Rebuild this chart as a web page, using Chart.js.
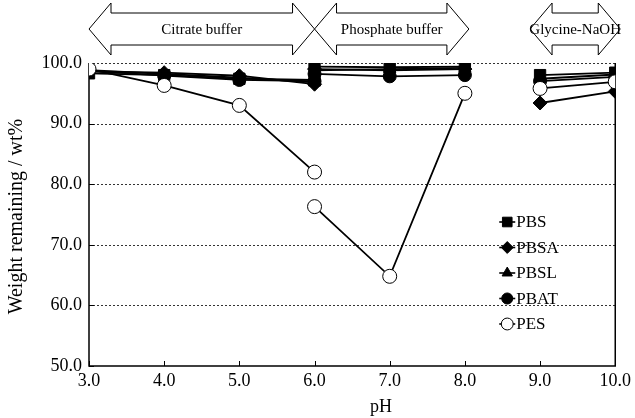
<!DOCTYPE html>
<html>
<head>
<meta charset="utf-8">
<script src="https://cdn.jsdelivr.net/npm/chart.js@4/dist/chart.umd.min.js"></script>
<style>
  html, body { margin: 0; padding: 0; background: #fff; }
  #wrap { width: 635px; height: 418px; position: relative; }
</style>
</head>
<body>
<div id="wrap"><canvas id="c"></canvas></div>
<script>
// pH points: 6.0 appears twice (citrate and phosphate buffer)
const pH      = [3, 4, 5, 6, 6, 7, 8, 9, 10];
const buffers = ['citrate', 'citrate', 'citrate', 'citrate', 'phosphate', 'phosphate', 'phosphate', 'glycine', 'glycine'];

const PBS  = [98.3, 98.0, 97.4, 97.2, 99.4, 99.3, 99.4, 98.0, 98.4];
const PBSA = [98.6, 98.4, 97.9, 96.5, 99.0, 98.8, 99.0, 93.4, 95.3];
const PBSL = [98.8, 98.2, 97.6, 96.8, 98.8, 99.0, 99.2, 97.4, 98.1];
const PBAT = [98.7, 97.9, 97.2, 97.0, 98.2, 97.8, 98.0, 97.0, 97.7];
const PES  = [99.0, 96.3, 93.0, 82.0, 76.3, 64.8, 95.0, 95.8, 96.9];

const xTicks = [3, 4, 5, 6, 7, 8, 9, 10];
const yTicks = [50, 60, 70, 80, 90, 100];

const bufferBands = [
  { label: 'Citrate buffer',   from: 3, to: 6 },
  { label: 'Phosphate buffer', from: 6, to: 8 },
  { label: 'Glycine-NaOH',     from: 9, to: 10 }
];

const FONT = "'Liberation Serif', 'Times New Roman', serif";

// points with a null between buffer changes so the line breaks
function toPoints(values) {
  const pts = [];
  values.forEach((v, i) => {
    if (i > 0 && buffers[i] !== buffers[i - 1]) pts.push({ x: pH[i], y: null });
    pts.push({ x: pH[i], y: v });
  });
  return pts;
}

function series(label, values, style, radius, fill, order) {
  return {
    label,
    data: toPoints(values),
    borderColor: '#000',
    borderWidth: 1.8,
    pointStyle: style,
    pointRadius: radius,
    pointHoverRadius: radius,
    pointBackgroundColor: fill,
    pointBorderColor: '#000',
    pointBorderWidth: 1,
    spanGaps: false,
    tension: 0,
    order
  };
}

// marker for the in-plot legend
function drawMarker(ctx, style, x, y, r, fill) {
  ctx.save();
  ctx.fillStyle = fill;
  ctx.strokeStyle = '#000';
  ctx.lineWidth = 1;
  ctx.beginPath();
  if (style === 'rect') {
    const s = r * Math.SQRT1_2;
    ctx.rect(x - s, y - s, 2 * s, 2 * s);
  } else if (style === 'rectRot') {
    ctx.moveTo(x, y - r); ctx.lineTo(x + r, y); ctx.lineTo(x, y + r); ctx.lineTo(x - r, y);
    ctx.closePath();
  } else if (style === 'triangle') {
    const w = r * Math.sqrt(3);
    ctx.moveTo(x, y - r); ctx.lineTo(x + w / 2, y + r / 2); ctx.lineTo(x - w / 2, y + r / 2);
    ctx.closePath();
  } else {
    ctx.arc(x, y, r, 0, Math.PI * 2);
  }
  ctx.fill();
  ctx.stroke();
  ctx.restore();
}

const decorPlugin = {
  id: 'decor',
  beforeDatasetsDraw(chart) {
    const { ctx, chartArea: a, scales: { x, y } } = chart;
    ctx.save();
    // dotted grid lines
    ctx.strokeStyle = '#333';
    ctx.lineWidth = 1;
    ctx.setLineDash([2, 2]);
    yTicks.slice(1).forEach(v => {
      const py = Math.round(y.getPixelForValue(v)) + 0.5;
      ctx.beginPath(); ctx.moveTo(a.left, py); ctx.lineTo(a.right, py); ctx.stroke();
    });
    ctx.setLineDash([]);
    // solid axes + right border
    ctx.strokeStyle = '#000';
    ctx.lineWidth = 1.5;
    ctx.beginPath();
    ctx.moveTo(a.left, a.top); ctx.lineTo(a.left, a.bottom); ctx.lineTo(a.right, a.bottom); ctx.lineTo(a.right, a.top);
    ctx.stroke();
    // inward tick marks
    ctx.lineWidth = 1;
    xTicks.forEach(v => {
      const px = Math.round(x.getPixelForValue(v)) + 0.5;
      ctx.beginPath(); ctx.moveTo(px, a.bottom); ctx.lineTo(px, a.bottom - 5); ctx.stroke();
    });
    yTicks.forEach(v => {
      const py = Math.round(y.getPixelForValue(v)) + 0.5;
      ctx.beginPath(); ctx.moveTo(a.left, py); ctx.lineTo(a.left + 5, py); ctx.stroke();
    });
    ctx.restore();
  },
  afterDraw(chart) {
    const { ctx, chartArea: a, scales: { x } } = chart;
    ctx.save();
    // buffer arrows across the top
    const yc = 29, H = 26, B = 16, hl = 22;
    bufferBands.forEach((b, i) => {
      let xl = x.getPixelForValue(b.from), xr = x.getPixelForValue(b.to);
      if (i === 2) { xl -= 10; xr += 5; }
      if (i === 1) { xr += 4; }
      ctx.beginPath();
      ctx.moveTo(xl, yc);
      ctx.lineTo(xl + hl, yc - H);
      ctx.lineTo(xl + hl, yc - B);
      ctx.lineTo(xr - hl, yc - B);
      ctx.lineTo(xr - hl, yc - H);
      ctx.lineTo(xr, yc);
      ctx.lineTo(xr - hl, yc + H);
      ctx.lineTo(xr - hl, yc + B);
      ctx.lineTo(xl + hl, yc + B);
      ctx.lineTo(xl + hl, yc + H);
      ctx.closePath();
      ctx.fillStyle = '#fff';
      ctx.fill();
      ctx.strokeStyle = '#000';
      ctx.lineWidth = 1;
      ctx.stroke();
      ctx.fillStyle = '#000';
      ctx.font = '15px ' + FONT;
      ctx.textAlign = 'center';
      ctx.textBaseline = 'middle';
      ctx.fillText(b.label, (xl + xr) / 2, yc + 1);
    });
    // legend inside the plot
    const lx = a.right - 108, ly0 = a.top + 159, step = 25.5;
    chart.data.datasets.forEach((ds, i) => {
      const yy = ly0 + i * step;
      ctx.strokeStyle = '#000';
      ctx.lineWidth = 1.6;
      ctx.beginPath(); ctx.moveTo(lx - 8, yy); ctx.lineTo(lx + 8, yy); ctx.stroke();
      drawMarker(ctx, ds.pointStyle, lx, yy, ds.pointRadius * 0.85, ds.pointBackgroundColor);
      ctx.fillStyle = '#000';
      ctx.font = '17px ' + FONT;
      ctx.textAlign = 'left';
      ctx.textBaseline = 'middle';
      ctx.fillText(ds.label, lx + 9, yy + 1);
    });
    // axis titles
    ctx.font = '18px ' + FONT;
    ctx.textAlign = 'center';
    ctx.textBaseline = 'middle';
    ctx.fillText('pH', 381, 407);
    ctx.translate(17, (a.top + a.bottom) / 2 + 2);
    ctx.rotate(-Math.PI / 2);
    ctx.font = '20px ' + FONT;
    ctx.fillText('Weight remaining / wt%', 0, 0);
    ctx.restore();
  }
};

new Chart(document.getElementById('c'), {
  type: 'line',
  data: {
    datasets: [
      series('PBS',  PBS,  'rect',     8,   '#000', 3),
      series('PBSA', PBSA, 'rectRot',  7,   '#000', 4),
      series('PBSL', PBSL, 'triangle', 7,   '#000', 2),
      series('PBAT', PBAT, 'circle',   6.5, '#000', 1),
      series('PES',  PES,  'circle',   7,   '#fff', 0)
    ]
  },
  options: {
    responsive: true,
    maintainAspectRatio: false,
    animation: false,
    layout: { padding: { left: 0, right: 15, top: 63, bottom: 0 } },
    plugins: { legend: { display: false }, tooltip: { enabled: false } },
    scales: {
      x: {
        type: 'linear',
        min: 3, max: 10,
        afterFit: s => { s.height = 52; },
        afterBuildTicks: s => { s.ticks = xTicks.map(v => ({ value: v })); },
        ticks: { callback: v => v.toFixed(1), color: '#000', font: { family: FONT, size: 18 }, padding: 4, maxRotation: 0 },
        grid: { display: false, drawTicks: false },
        border: { display: false }
      },
      y: {
        min: 50, max: 100,
        afterFit: s => { s.width = 89; },
        afterBuildTicks: s => { s.ticks = yTicks.map(v => ({ value: v })); },
        ticks: { callback: v => v.toFixed(1), color: '#000', font: { family: FONT, size: 18 }, padding: 7 },
        grid: { display: false, drawTicks: false },
        border: { display: false }
      }
    }
  },
  plugins: [decorPlugin]
});
</script>
</body>
</html>
